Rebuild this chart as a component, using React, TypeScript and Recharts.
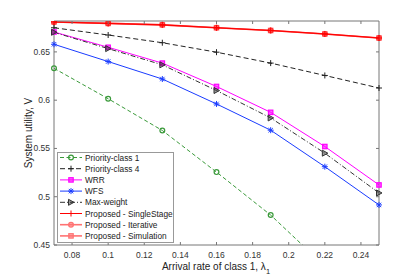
import React from "react";
import { LineChart, Line, XAxis, YAxis, Legend } from "recharts";

const lambda = [0.07, 0.1, 0.13, 0.16, 0.19, 0.22, 0.25];
const priority1 = [0.633, 0.6015, 0.5686, 0.5255, 0.481, 0.428, 0.375];
const priority4 = [0.675, 0.6675, 0.6595, 0.6497, 0.6384, 0.6256, 0.6126];
const wrr = [0.6706, 0.6548, 0.6384, 0.6142, 0.5874, 0.552, 0.5122];
const wfs = [0.6579, 0.64, 0.6219, 0.5961, 0.5689, 0.5311, 0.4915];
const maxWeight = [0.6703, 0.6534, 0.6366, 0.61, 0.5816, 0.5451, 0.5039];
const singleStage = [0.681, 0.6795, 0.678, 0.675, 0.6722, 0.6686, 0.6644];
const iterative = [0.681, 0.6795, 0.678, 0.675, 0.6722, 0.6686, 0.6644];
const simulation = [0.681, 0.6795, 0.678, 0.675, 0.6722, 0.6686, 0.6644];

const xTicks = [0.08, 0.1, 0.12, 0.14, 0.16, 0.18, 0.2, 0.22, 0.24];
const yTicks = [0.45, 0.5, 0.55, 0.6, 0.65];

const data = lambda.map((l, i) => ({
  l,
  p1: priority1[i],
  p4: priority4[i],
  wrr: wrr[i],
  wfs: wfs[i],
  mw: maxWeight[i],
  ss: singleStage[i],
  it: iterative[i],
  sim: simulation[i],
}));

type Marker = "circle" | "plus" | "square" | "star" | "tri";

const series: { key: string; name: string; color: string; dash?: string; marker: Marker; opacity: number; fill: boolean }[] = [
  { key: "p1", name: "Priority-class 1", color: "#3a9a3a", dash: "4 2.5", marker: "circle", opacity: 1, fill: false },
  { key: "p4", name: "Priority-class 4", color: "#222", dash: "5 3", marker: "plus", opacity: 1, fill: false },
  { key: "wrr", name: "WRR", color: "#ff00ff", marker: "square", opacity: 1, fill: true },
  { key: "wfs", name: "WFS", color: "#1a3cff", marker: "star", opacity: 1, fill: false },
  { key: "mw", name: "Max-weight", color: "#333", dash: "5 2 1 2", marker: "tri", opacity: 1, fill: true },
  { key: "ss", name: "Proposed - SingleStage", color: "#ff0000", marker: "plus", opacity: 1, fill: false },
  { key: "it", name: "Proposed  - Iterative", color: "#ff0000", marker: "circle", opacity: 0.55, fill: true },
  { key: "sim", name: "Proposed  - Simulation", color: "#ff0000", marker: "square", opacity: 0.55, fill: true },
];

const font = "'Liberation Sans', Arial, sans-serif";
const axisColor = "#777";
const textColor = "#333";

function drawMarker(m: Marker, cx: number, cy: number, color: string, fill: boolean) {
  const f = fill ? color : "none";
  switch (m) {
    case "circle":
      return <circle cx={cx} cy={cy} r={2.4} fill={f} fillOpacity={fill ? 0.6 : 0} stroke={color} strokeWidth={1.2} />;
    case "plus":
      return <path d={`M${cx - 3},${cy}H${cx + 3}M${cx},${cy - 3}V${cy + 3}`} stroke={color} strokeWidth={1} />;
    case "square":
      return (
        <rect x={cx - 2.2} y={cy - 2.2} width={4.4} height={4.4} fill={f} fillOpacity={fill ? 0.6 : 0} stroke={color} strokeWidth={1.2} />
      );
    case "star":
      return (
        <path
          d={`M${cx - 3},${cy}H${cx + 3}M${cx},${cy - 3}V${cy + 3}M${cx - 2.2},${cy - 2.2}L${cx + 2.2},${cy + 2.2}M${cx - 2.2},${cy + 2.2}L${cx + 2.2},${cy - 2.2}`}
          stroke={color}
          strokeWidth={1}
        />
      );
    case "tri":
      return (
        <path d={`M${cx - 2.5},${cy - 3}L${cx - 2.5},${cy + 3}L${cx + 3},${cy}Z`} fill={f} fillOpacity={fill ? 0.5 : 0} stroke={color} strokeWidth={1} />
      );
  }
}

const fmt = (v: number) => String(Number(v.toFixed(2)));

const BottomTick = ({ x, y, payload }: any) => (
  <g>
    <line x1={x} x2={x} y1={y} y2={y - 3} stroke={axisColor} />
    <text x={x} y={y + 13} textAnchor="middle" fontSize={8.5} fill={textColor} fontFamily={font}>
      {fmt(payload.value)}
    </text>
  </g>
);
const TopTick = ({ x, y }: any) => <line x1={x} x2={x} y1={y} y2={y + 3} stroke={axisColor} />;
const LeftTick = ({ x, y, payload }: any) => (
  <g>
    <line x1={x} x2={x + 3} y1={y} y2={y} stroke={axisColor} />
    <text x={x - 4} y={y + 3} textAnchor="end" fontSize={8.5} fill={textColor} fontFamily={font}>
      {fmt(payload.value)}
    </text>
  </g>
);
const RightTick = ({ x, y }: any) => <line x1={x} x2={x - 3} y1={y} y2={y} stroke={axisColor} />;

const LegendBox = () => (
  <svg width={117} height={91} style={{ display: "block" }}>
    <rect x={0.5} y={0.5} width={116} height={90} fill="#fff" stroke="#999" />
    {series.map((s, i) => {
      const cy = 5.5 + i * 11.2;
      return (
        <g key={s.key}>
          <g opacity={s.opacity}>
            <line x1={3} x2={25} y1={cy} y2={cy} stroke={s.color} strokeWidth={s.opacity < 1 ? 1.6 : 1} strokeDasharray={s.dash} />
            {drawMarker(s.marker, 14, cy, s.color, s.fill)}
          </g>
          <text x={28} y={cy + 3} fontSize={8.3} fill="#222" fontFamily={font}>
            {s.name}
          </text>
        </g>
      );
    })}
  </svg>
);

export default function App() {
  return (
    <div style={{ position: "absolute", left: 0, top: 0, width: 418, height: 279, background: "#fff" }}>
      <LineChart width={418} height={279} data={data} margin={{ top: 20, right: 38, bottom: 33, left: 53 }}>
        <XAxis
          dataKey="l"
          type="number"
          domain={[0.07, 0.25]}
          ticks={xTicks}
          interval={0}
          height={1}
          tickSize={0}
          tickMargin={0}
          tickLine={false}
          tick={<BottomTick />}
          stroke={axisColor}
          label={{
            content: () => (
              <text x={216} y={270} textAnchor="middle" fontSize={10} fill="#222" fontFamily={font}>
                Arrival rate of class 1, λ
                <tspan fontSize={7.5} dy={4}>1</tspan>
              </text>
            ),
          }}
        />
        <XAxis
          xAxisId="top"
          orientation="top"
          dataKey="l"
          type="number"
          domain={[0.07, 0.25]}
          ticks={xTicks}
          interval={0}
          height={1}
          tickSize={0}
          tickMargin={0}
          tickLine={false}
          tick={<TopTick />}
          stroke={axisColor}
        />
        <YAxis
          type="number"
          domain={[0.45, 0.682]}
          allowDataOverflow
          ticks={yTicks}
          interval={0}
          width={1}
          tickSize={0}
          tickMargin={0}
          tickLine={false}
          tick={<LeftTick />}
          stroke={axisColor}
          label={{
            content: () => (
              <text
                x={32}
                y={133}
                transform="rotate(-90 32 133)"
                textAnchor="middle"
                fontSize={10}
                fill="#222"
                fontFamily={font}
              >
                System utility, V
              </text>
            ),
          }}
        />
        <YAxis
          yAxisId="right"
          orientation="right"
          type="number"
          domain={[0.45, 0.682]}
          allowDataOverflow
          ticks={yTicks}
          interval={0}
          width={1}
          tickSize={0}
          tickMargin={0}
          tickLine={false}
          tick={<RightTick />}
          stroke={axisColor}
        />
        {series.map((s) => (
          <Line
            key={s.key}
            dataKey={s.key}
            name={s.name}
            stroke={s.color}
            strokeOpacity={s.opacity}
            strokeWidth={s.opacity < 1 ? 1.6 : 1}
            strokeDasharray={s.dash}
            isAnimationActive={false}
            activeDot={false}
            dot={(p: any) => (
              <g key={`${s.key}-${p.index}`} opacity={s.opacity}>
                {drawMarker(s.marker, p.cx, p.cy, s.color, s.fill)}
              </g>
            )}
          />
        ))}
        <Legend
          layout="vertical"
          align="center"
          verticalAlign="middle"
          wrapperStyle={{ position: "absolute", left: 57, top: 152, width: 117, height: 91 }}
          content={() => <LegendBox />}
        />
      </LineChart>
    </div>
  );
}
